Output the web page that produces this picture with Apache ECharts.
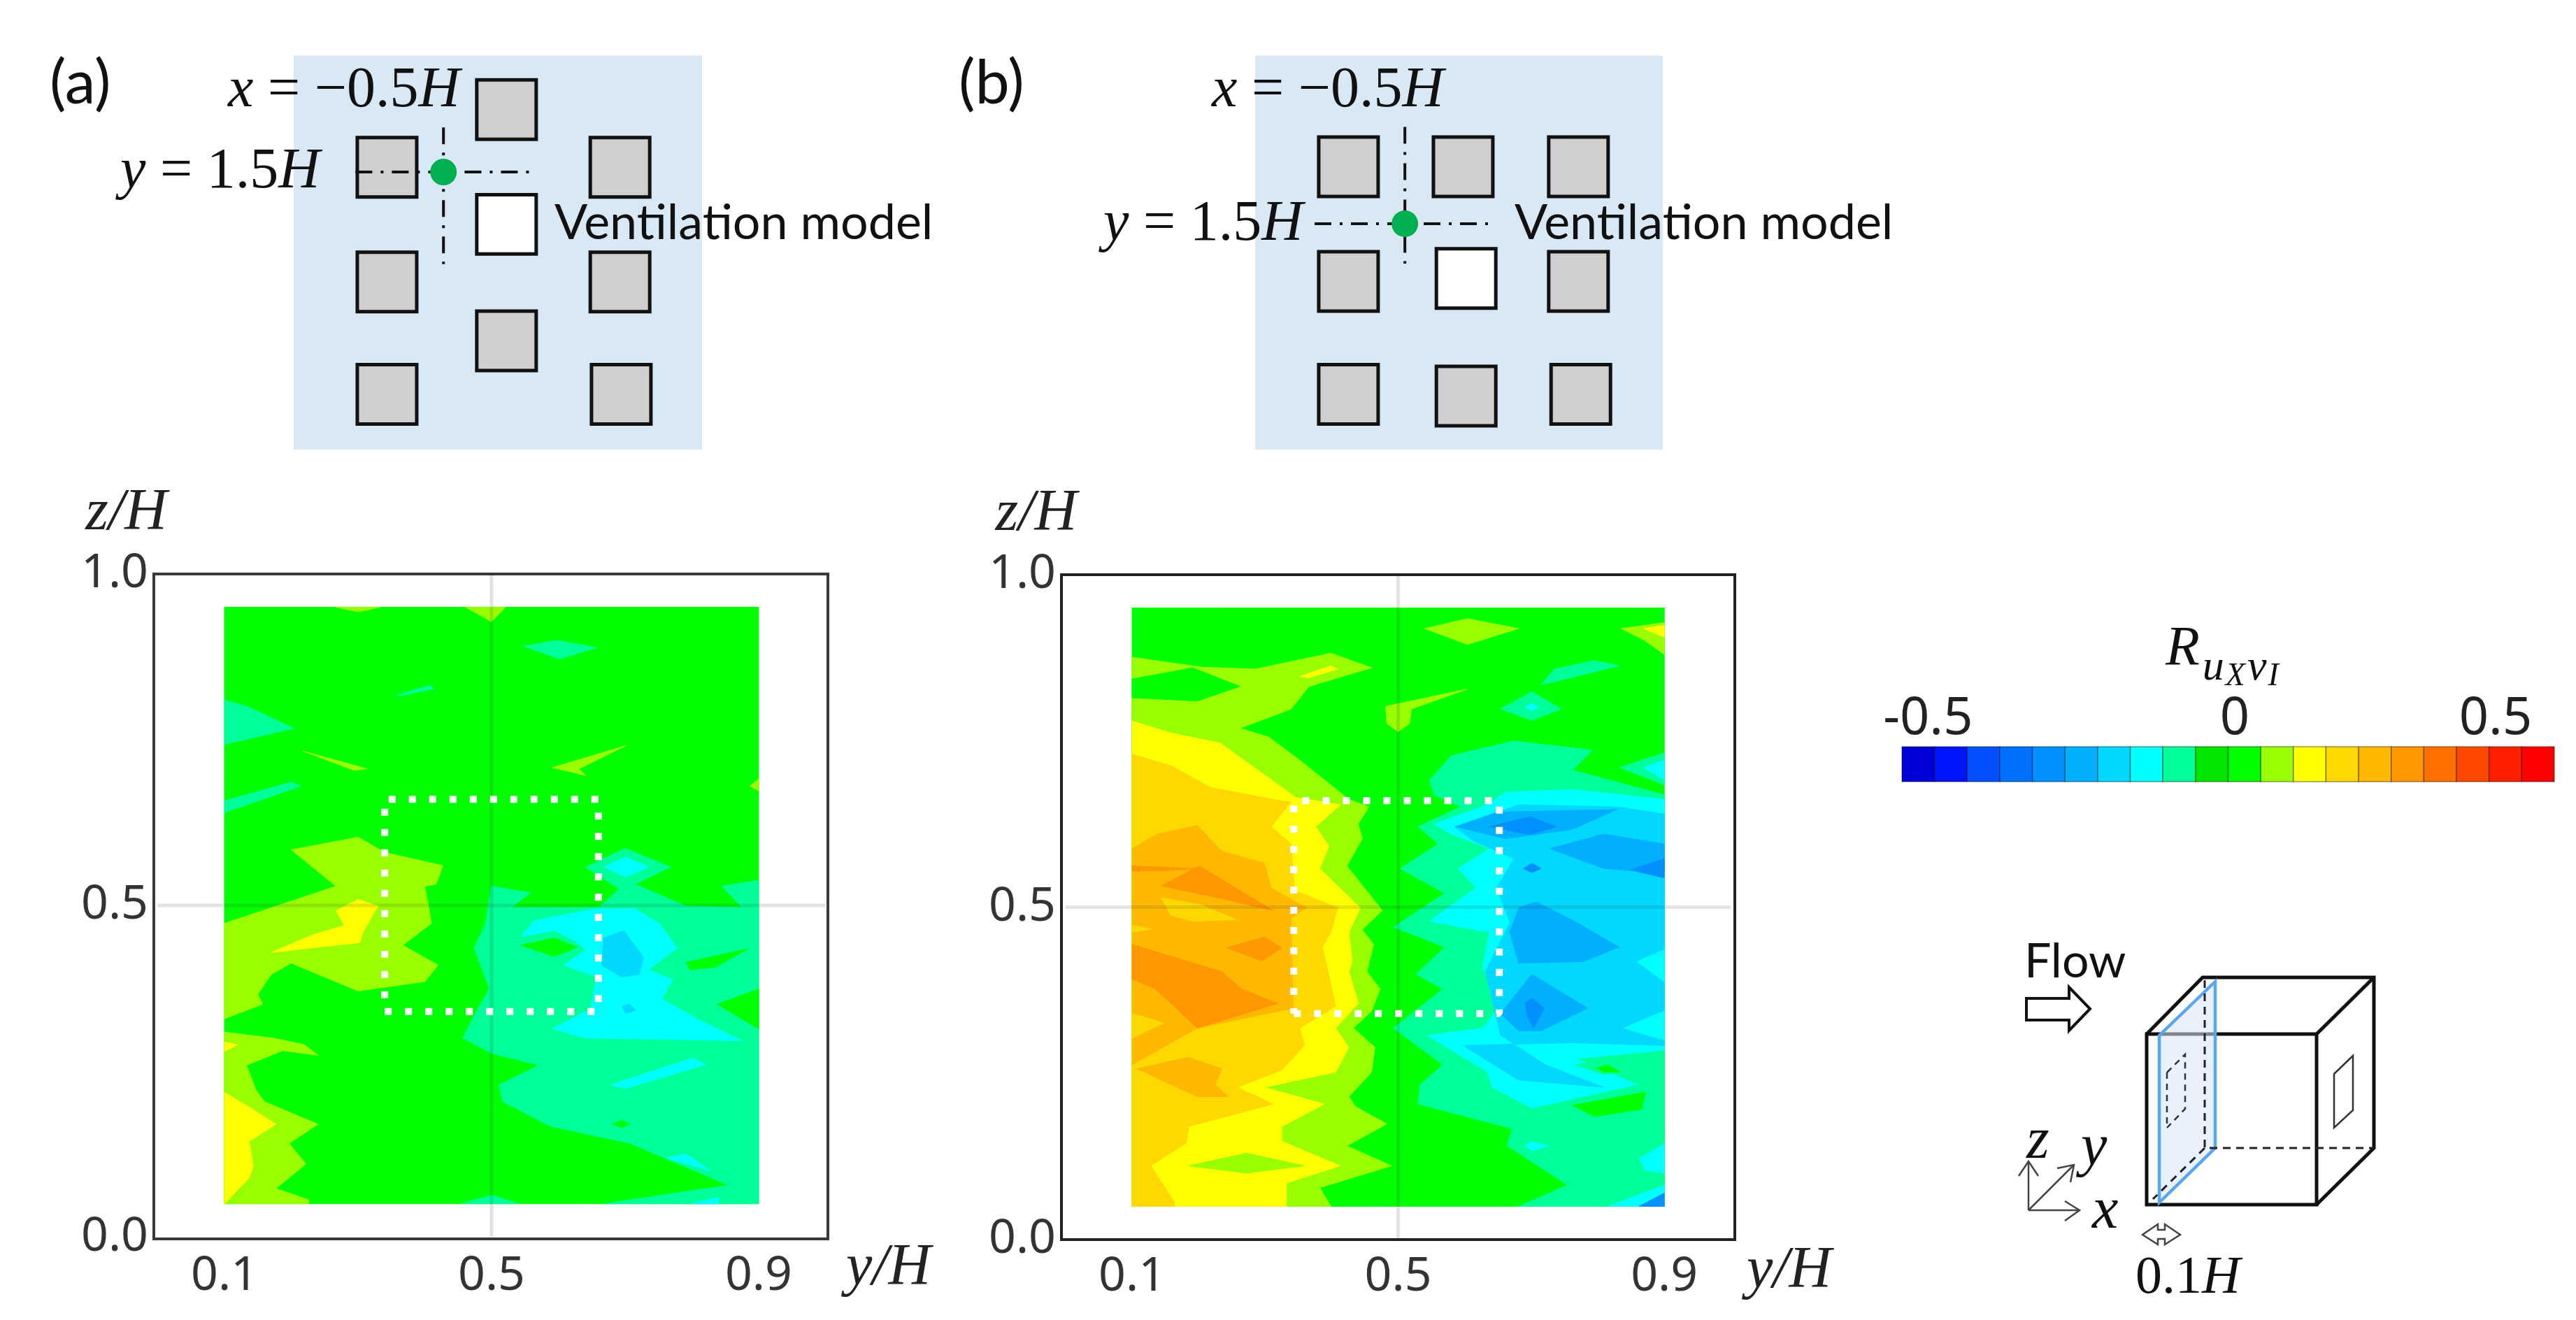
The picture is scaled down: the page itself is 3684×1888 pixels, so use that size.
<!DOCTYPE html>
<html><head><meta charset="utf-8">
<style>html,body{margin:0;padding:0;background:#fff}#c{width:3684px;height:1888px}</style>
<script src="https://cdn.jsdelivr.net/npm/echarts@6/dist/echarts.min.js"></script>
</head><body><div id="c"></div>
<script>
// Colour scale of R: 20 classes, lower edges and colours
const levelEdges = [-0.5,-0.45,-0.4,-0.35,-0.3,-0.25,-0.2,-0.15,-0.1,-0.05,0,0.05,0.1,0.15,0.2,0.25,0.3,0.35,0.4,0.45,0.5];
const levelColors = ['#0000d8','#0014ff','#0050ff','#0070ff','#0090ff','#00b0ff','#00d8ff','#00ffff','#00ff99','#00e600','#00ff00','#99ff00','#ffff00','#ffd800','#ffb800','#ff9800','#ff7000','#ff4800','#ff2000','#ff0000'];
const colorTicks = [-0.46,0.01,0.41];
const colorTickLabels = ['-0.5','0','0.5'];
const yHTicks = [0.1,0.5,0.9];
const zHTicks = [0,0.5,1];
const windowY = [0.34,0.66];
const windowZ = [0.34,0.66];
const windowYb = [0.343,0.652];

// Contour bands: [class, [[y/H, z/H], ...]], painted in order
const bandsA = [
[10,[[.10,.95],[.90,.95],[.90,.05],[.10,.05]]],
[11,[[.10,.473],[.267,.529],[.20,.584],[.30,.603],[.34,.58],[.427,.56],[.417,.532],[.40,.529],[.41,.473],[.367,.44],[.42,.41],[.40,.385],[.30,.371],[.20,.413],[.17,.396],[.15,.366],[.157,.351],[.10,.329]]],
[12,[[.267,.492],[.30,.509],[.33,.499],[.307,.459],[.303,.444],[.24,.437],[.17,.429],[.23,.455],[.28,.47]]],
[11,[[.10,.309],[.173,.30],[.22,.29],[.24,.274],[.187,.281],[.133,.259],[.147,.222],[.16,.204],[.24,.17],[.197,.141],[.222,.11],[.177,.073],[.226,.056],[.226,.05],[.10,.05]]],
[12,[[.10,.218],[.137,.196],[.177,.17],[.137,.144],[.143,.107],[.137,.089],[.10,.05]]],
[12,[[.10,.294],[.12,.29],[.10,.28]]],
[8,[[.50,.529],[.558,.519],[.53,.497],[.661,.497],[.691,.525],[.641,.558],[.70,.586],[.768,.558],[.715,.532],[.791,.499],[.875,.497],[.845,.529],[.90,.538],[.90,.05],[.668,.05],[.855,.078],[.708,.141],[.588,.167],[.517,.204],[.511,.229],[.571,.259],[.50,.277],[.457,.30],[.477,.34],[.497,.374],[.474,.436],[.491,.473]]],
[7,[[.544,.453],[.564,.477],[.654,.495],[.715,.495],[.751,.473],[.778,.436],[.735,.403],[.771,.388],[.755,.359],[.808,.329],[.875,.296],[.641,.30],[.591,.314],[.648,.344],[.658,.392],[.608,.41],[.641,.433],[.624,.447],[.594,.462]]],
[10,[[.544,.44],[.594,.451],[.628,.437],[.594,.423]]],
[10,[[.791,.414],[.885,.435],[.835,.407],[.798,.403]]],
[10,[[.838,.351],[.90,.374],[.90,.314]]],
[10,[[.681,.17],[.695,.176],[.707,.17],[.695,.165]]],
[6,[[.668,.451],[.698,.462],[.728,.421],[.721,.396],[.695,.392],[.665,.41]]],
[6,[[.695,.348],[.707,.351],[.716,.342],[.701,.337]]],
[7,[[.668,.558],[.701,.573],[.735,.558],[.701,.543]]],
[7,[[.678,.229],[.801,.27],[.821,.26],[.701,.224]]],
[7,[[.761,.119],[.791,.125],[.828,.10]]],
[7,[[.80,.05],[.84,.06],[.84,.05]]],
[8,[[.548,.891],[.598,.90],[.658,.889],[.602,.872]]],
[8,[[.357,.817],[.407,.832],[.414,.827],[.367,.817]]],
[8,[[.10,.81],[.137,.799],[.204,.767],[.10,.743]]],
[8,[[.10,.658],[.20,.686],[.214,.68],[.10,.64]]],
[11,[[.217,.733],[.314,.706],[.294,.704]]],
[11,[[.591,.708],[.701,.741],[.631,.706],[.641,.696]]],
[11,[[.461,.95],[.521,.95],[.50,.928]]],
[11,[[.267,.95],[.334,.95],[.30,.943]]],
[11,[[.90,.691],[.887,.68],[.90,.673]]],
[8,[[.454,.05],[.50,.063],[.541,.05]]]
];

const bandsB = [
[10,[[.10,.95],[.90,.95],[.90,.05],[.10,.05]]],
[11,[[.10,.876],[.205,.861],[.285,.858],[.399,.882],[.46,.86],[.366,.832],[.339,.798],[.262,.769],[.305,.756],[.352,.721],[.426,.662],[.456,.651],[.44,.625],[.446,.603],[.423,.562],[.476,.495],[.446,.466],[.463,.444],[.453,.403],[.473,.377],[.46,.344],[.433,.318],[.465,.289],[.46,.252],[.426,.215],[.436,.20],[.483,.174],[.423,.141],[.49,.111],[.382,.078],[.399,.05],[.10,.05]]],
[10,[[.10,.843],[.191,.86],[.262,.832],[.198,.81],[.10,.815]]],
[12,[[.352,.847],[.399,.863],[.409,.858],[.366,.845]]],
[12,[[.10,.78],[.158,.762],[.232,.747],[.299,.699],[.346,.665],[.413,.654],[.376,.621],[.396,.592],[.382,.558],[.443,.499],[.426,.462],[.431,.418],[.426,.403],[.44,.355],[.406,.318],[.426,.289],[.406,.252],[.299,.229],[.389,.204],[.325,.17],[.325,.148],[.413,.111],[.332,.085],[.332,.05],[.10,.05]]],
[11,[[.185,.111],[.272,.13],[.359,.111],[.272,.10]]],
[13,[[.10,.73],[.158,.713],[.218,.68],[.312,.662],[.339,.658],[.309,.621],[.339,.595],[.344,.525],[.409,.499],[.399,.462],[.386,.44],[.406,.351],[.352,.318],[.359,.292],[.325,.255],[.258,.229],[.312,.204],[.185,.17],[.181,.145],[.128,.111],[.164,.056],[.164,.05],[.10,.05]]],
[14,[[.10,.588],[.138,.61],[.198,.623],[.235,.584],[.299,.566],[.309,.529],[.342,.51],[.362,.499],[.339,.484],[.342,.348],[.198,.318],[.10,.263]]],
[14,[[.107,.257],[.184,.274],[.235,.257],[.225,.233],[.245,.215],[.198,.215]]],
[15,[[.10,.444],[.235,.403],[.265,.377],[.319,.355],[.198,.318],[.135,.377],[.10,.392]]],
[13,[[.10,.34],[.148,.326],[.10,.303]]],
[13,[[.144,.514],[.205,.503],[.258,.481],[.191,.479],[.158,.488]]],
[15,[[.144,.532],[.201,.562],[.312,.495],[.225,.515]]],
[15,[[.10,.562],[.198,.558],[.151,.555],[.10,.554]]],
[15,[[.242,.439],[.299,.455],[.325,.439],[.295,.419]]],
[13,[[.10,.473],[.128,.467],[.10,.462]]],
[11,[[.54,.919],[.604,.934],[.681,.919],[.604,.895]]],
[11,[[.835,.919],[.90,.928],[.90,.88],[.869,.902]]],
[12,[[.869,.919],[.90,.924],[.90,.906]]],
[11,[[.481,.802],[.604,.828],[.52,.798],[.517,.776],[.50,.764],[.483,.776]]],
[8,[[.547,.691],[.58,.728],[.674,.75],[.792,.736],[.762,.706],[.90,.669],[.90,.05],[.681,.05],[.755,.082],[.664,.141],[.671,.167],[.53,.204],[.533,.233],[.567,.263],[.493,.318],[.567,.377],[.527,.399],[.57,.44],[.493,.47],[.57,.521],[.503,.558],[.56,.595],[.53,.621],[.594,.651],[.554,.669]]],
[8,[[.715,.835],[.735,.858],[.795,.871],[.832,.863],[.735,.839]]],
[8,[[.654,.798],[.701,.824],[.745,.798],[.701,.781]]],
[7,[[.69,.801],[.701,.806],[.711,.801],[.701,.795]]],
[8,[[.833,.71],[.90,.732],[.90,.684]]],
[7,[[.869,.71],[.90,.721],[.90,.691]]],
[7,[[.554,.625],[.634,.654],[.661,.673],[.762,.677],[.90,.662],[.90,.285],[.768,.272],[.859,.233],[.701,.198],[.641,.229],[.634,.252],[.544,.307],[.627,.318],[.651,.348],[.627,.411],[.637,.462],[.547,.479],[.617,.529],[.59,.558],[.637,.588],[.58,.61]]],
[6,[[.584,.621],[.681,.654],[.829,.651],[.90,.64],[.90,.292],[.762,.296],[.597,.292],[.681,.24],[.809,.229],[.721,.263],[.654,.307],[.631,.403],[.668,.477],[.648,.529],[.674,.573],[.614,.599]]],
[7,[[.859,.418],[.90,.436],[.90,.388]]],
[7,[[.839,.318],[.90,.344],[.90,.30]]],
[5,[[.587,.621],[.651,.643],[.829,.647],[.762,.617],[.661,.603]]],
[4,[[.637,.621],[.698,.636],[.738,.621],[.698,.609]]],
[5,[[.728,.588],[.809,.61],[.90,.595],[.90,.551],[.809,.558]]],
[4,[[.849,.556],[.90,.573],[.90,.544]]],
[4,[[.688,.558],[.701,.566],[.715,.558],[.701,.552]]],
[5,[[.668,.462],[.681,.499],[.708,.508],[.768,.477],[.832,.44],[.778,.418],[.681,.416]]],
[5,[[.654,.34],[.701,.399],[.785,.348],[.715,.314],[.681,.314]]],
[4,[[.691,.355],[.701,.363],[.72,.348],[.703,.318],[.694,.337]]],
[7,[[.862,.122],[.90,.144],[.90,.10],[.872,.104]]],
[7,[[.691,.141],[.701,.148],[.725,.141],[.701,.133]]],
[7,[[.815,.05],[.90,.082],[.90,.05]]],
[4,[[.862,.05],[.90,.07],[.90,.05]]],
[8,[[.767,.263],[.82,.274],[.859,.255],[.809,.248]]],
[10,[[.798,.258],[.815,.263],[.834,.252],[.809,.252]]],
[10,[[.762,.202],[.872,.222],[.866,.196],[.795,.185]]]
];

// Site plans, in units of H from the ventilation model: [centre x, centre y, fill kind]
const buildingsA = [[0,1.93,0],[-2.01,.96,0],[1.91,.96,0],[0,0,1],[-2.01,-.97,0],[1.91,-.97,0],[0,-1.96,0],[-2.01,-2.86,0],[1.93,-2.86,0]];
const buildingsB = [[-1.98,1.88,0],[-.05,1.88,0],[1.89,1.88,0],[-1.98,-.05,0],[0,0,1],[1.89,-.05,0],[-1.98,-1.95,0],[0,-1.98,0],[1.93,-1.95,0]];
const planA = {x:[-3.58,3.29], y:[-3.79,2.84], probe:[-1.06,.88], vLine:[1.63,-.67], hLine:[-2.54,.49]};
const planB = {x:[-3.55,3.31], y:[-2.88,3.75], probe:[-1.03,.92], vLine:[2.55,.25], hLine:[-2.55,.48]};

const MATH = '"Liberation Serif"', SANS = '"Noto Sans"', CAL = 'Lato', INK = '#333';

function bandSeries(bands, g){
  return {type:'custom', xAxisIndex:g, yAxisIndex:g, z:2, silent:true, clip:false,
    data:bands.map(b=>[b[1][0][0],b[1][0][1],b[0]]), encode:{x:0,y:1},
    renderItem:(p,api)=>{const b=bands[p.dataIndex];
      return {type:'polygon', shape:{points:b[1].map(q=>api.coord(q))},
        style:{fill:levelColors[b[0]], stroke:levelColors[b[0]], lineWidth:1}};}};
}
function lineSeries(g, pts, style, z){
  return {type:'line', xAxisIndex:g, yAxisIndex:g, data:pts, symbol:'none', silent:true, z:z, lineStyle:style};
}
function panelSeries(g, bands, wy, wz){
  return [bandSeries(bands,g),
    lineSeries(g,[[.5,0],[.5,1]],{color:'rgba(60,60,60,.14)',width:5},3),
    lineSeries(g,[[0,.5],[1,.5]],{color:'rgba(60,60,60,.14)',width:5},3),
    lineSeries(g,[[wy[0],wz[0]],[wy[1],wz[0]],[wy[1],wz[1]],[wy[0],wz[1]],[wy[0],wz[0]]],{color:'#fff',width:10,type:[10,19]},4)];
}
function planSeries(g, plan, bld){
  return [{type:'custom', xAxisIndex:g, yAxisIndex:g, z:2, silent:true, clip:false,
      data:bld.map(b=>[b[0],b[1],b[2]]), encode:{x:0,y:1},
      renderItem:(p,api)=>{const b=bld[p.dataIndex], a=api.coord([b[0]-.5,b[1]+.5]), c=api.coord([b[0]+.5,b[1]-.5]);
        return {type:'rect', shape:{x:a[0],y:a[1],width:c[0]-a[0],height:c[1]-a[1]},
          style:{fill:b[2]?'#fff':'#d0cece', stroke:'#111', lineWidth:5}};}},
    lineSeries(g,[[plan.probe[0],plan.vLine[0]],[plan.probe[0],plan.vLine[1]]],{color:'#111',width:4,type:[24,12,4,12]},3),
    lineSeries(g,[[plan.hLine[0],plan.probe[1]],[plan.hLine[1],plan.probe[1]]],{color:'#111',width:4,type:[24,12,4,12]},3),
    {type:'scatter', xAxisIndex:g, yAxisIndex:g, z:4, silent:true, symbolSize:38, itemStyle:{color:'#00b050',opacity:1}, data:[plan.probe]}];
}
function dataAxis(pos, min, max, ticks, extra){
  return {type:'value', gridIndex:extra.g, position:pos, min, max, splitLine:{show:false},
    axisLine:{show:false}, axisTick:{show:false},
    axisLabel:{customValues:ticks, formatter:v=>v.toFixed(1), fontFamily:SANS, fontSize:68, color:INK, margin:extra.margin, hideOverlap:false},
    name:extra.name, nameLocation:'end', nameGap:extra.gap,
    nameTextStyle:extra.nameStyle};
}
const mathName = {fontFamily:MATH, fontStyle:'italic', fontSize:84, color:'#222'};

const grids = [
  {left:220,top:821,width:964,height:951,show:true,borderColor:'#3a3a3a',borderWidth:4,backgroundColor:'#fff'},
  {left:1518,top:822,width:963,height:951,show:true,borderColor:'#222',borderWidth:4,backgroundColor:'#fff'},
  {left:2720,top:1068,width:933,height:50},
  {left:420,top:79.5,width:584,height:563.5},
  {left:1795,top:79.5,width:583,height:563.5}
];
const hidden = (g,r)=>({type:'value',gridIndex:g,min:r[0],max:r[1],show:false});
const xAxes = [
  dataAxis('bottom',-.0058,1.0037,yHTicks,{g:0,margin:20,name:'y/H',gap:26,nameStyle:Object.assign({verticalAlign:'top',padding:[4,0,0,0]},mathName)}),
  dataAxis('bottom',-.0062,1.006,yHTicks,{g:1,margin:20,name:'y/H',gap:17,nameStyle:Object.assign({verticalAlign:'top',padding:[4,0,0,0]},mathName)}),
  {type:'value',gridIndex:2,position:'top',min:-.5,max:.5,splitLine:{show:false},axisLine:{show:false},axisTick:{show:false},
   axisLabel:{customValues:colorTicks,formatter:v=>colorTickLabels[colorTicks.indexOf(v)],fontFamily:SANS,fontSize:74,color:'#222',margin:2,hideOverlap:false}},
  hidden(3,planA.x), hidden(4,planB.x)
];
const yAxes = [
  dataAxis('left',-.003,1,zHTicks,{g:0,margin:8,name:'z/H',gap:44,nameStyle:Object.assign({verticalAlign:'bottom',padding:[0,90,0,0]},mathName)}),
  dataAxis('left',0,1,zHTicks,{g:1,margin:8,name:'z/H',gap:44,nameStyle:Object.assign({verticalAlign:'bottom',padding:[0,84,0,0]},mathName)}),
  {type:'value',gridIndex:2,min:0,max:1,show:false},
  hidden(3,planA.y), hidden(4,planB.y)
];
const legendSeries = {type:'custom', xAxisIndex:2, yAxisIndex:2, silent:true, clip:false,
  data:levelColors.map((c,i)=>[levelEdges[i],levelEdges[i+1]]), encode:{x:[0,1]},
  renderItem:(p,api)=>{const i=p.dataIndex,a=api.coord([levelEdges[i],1]),b=api.coord([levelEdges[i+1],0]);
    return {type:'rect',shape:{x:a[0],y:a[1],width:b[0]-a[0],height:b[1]-a[1]},style:{fill:levelColors[i],stroke:'rgba(0,0,0,.4)',lineWidth:1.5}};}};
const blueSeries = (g,plan)=>({type:'custom',xAxisIndex:g,yAxisIndex:g,z:1,silent:true,data:[[plan.x[0],plan.y[1]]],encode:{x:0,y:1},
  renderItem:(p,api)=>{const a=api.coord([plan.x[0],plan.y[1]]),b=api.coord([plan.x[1],plan.y[0]]);return {type:'rect',shape:{x:a[0],y:a[1],width:b[0]-a[0],height:b[1]-a[1]},style:{fill:'#d9e8f5'}};}});

// Graphic helpers for annotations and the cube sketch
const mathRich = {i:{fontFamily:MATH,fontStyle:'italic',fontSize:82,fill:'#111'}, n:{fontFamily:MATH,fontSize:82,fill:'#111'}};
const txt=(x,y,t,font,size,extra)=>({type:'text',x,y,z:20,silent:true,style:Object.assign({text:t,fontFamily:font,fontSize:size,fill:'#111',align:'left',verticalAlign:'middle'},extra||{})});
const mtxt=(x,y,t)=>({type:'text',x,y,z:20,silent:true,style:{text:t,rich:mathRich,align:'left',verticalAlign:'middle'}});
const pl=(pts,stroke,w,dash,close,fill)=>({type:close?'polygon':'polyline',z:15,silent:true,shape:{points:pts},
  style:{stroke,lineWidth:w,fill:fill||(close?'none':null),lineDash:dash||null}});
const cube=[
  pl([[3070,1479],[3313,1479],[3313,1723],[3070,1723]],'#111',5,null,true,'#fff'),
  pl([[3070,1479],[3150,1398],[3395,1398],[3395,1642],[3313,1723]],'#111',5),
  pl([[3313,1479],[3395,1398]],'#111',5),
  pl([[3088,1481],[3168,1404],[3168,1642],[3088,1720]],'#5aa5f0',4.5,null,true,'rgba(215,230,250,.55)'),
  pl([[3153,1402],[3153,1642],[3395,1642]],'#222',3,[11,8]),
  pl([[3153,1642],[3079,1715]],'#222',3,[11,8]),
  pl([[3099,1534],[3125,1508],[3125,1586],[3099,1613]],'#333',2.5,[9,7]),
  pl([[3099,1534],[3099,1613]],'#333',2.5,[9,7]),
  pl([[3338,1536],[3365,1510],[3365,1588],[3338,1613]],'#333',2.5,null,true,'#fff'),
  pl([[2898,1428],[2959,1428],[2959,1412],[2989,1443],[2959,1474],[2959,1459],[2898,1459]],'#111',4,null,true,'#fff'),
  pl([[2901,1731],[2901,1661]],'#444',2.5), pl([[2887,1682],[2901,1661],[2915,1682]],'#444',2.5),
  pl([[2901,1731],[2974,1731]],'#444',2.5), pl([[2953,1718],[2974,1731],[2953,1746]],'#444',2.5),
  pl([[2901,1731],[2966,1666]],'#444',2.5), pl([[2942,1671],[2966,1666],[2961,1691]],'#444',2.5),
  pl([[3086,1751],[3064,1766],[3086,1780],[3086,1772],[3096,1772],[3096,1780],[3118,1766],[3096,1751],[3096,1759],[3086,1759]],'#444',2.5,true,'#fff')
];
const graphics=[
  txt(71,120,'(a)',CAL,88), txt(1371,120,'(b)',CAL,88),
  mtxt(326,130,'{i|x}{n| = −0.5}{i|H}'), mtxt(1733,130,'{i|x}{n| = −0.5}{i|H}'),
  mtxt(172,246,'{i|y}{n| = 1.5}{i|H}'), mtxt(1578,321,'{i|y}{n| = 1.5}{i|H}'),
  txt(793,319,'Ventilation model',CAL,70), txt(2166,319,'Ventilation model',CAL,70),
  {type:'text',x:3097,y:890,z:20,silent:true,style:{text:'{r|R}{s|u}{t|X}{s|v}{t|I}',rich:{
     r:{fontFamily:MATH,fontStyle:'italic',fontSize:80,fill:'#111',padding:[0,4,26,0]},
     s:{fontFamily:MATH,fontStyle:'italic',fontSize:62,fill:'#111',padding:[26,2,0,0]},
     t:{fontFamily:MATH,fontStyle:'italic',fontSize:46,fill:'#111',padding:[50,3,0,0]}},align:'left',verticalAlign:'top'}},
  txt(2895,1376,'Flow',CAL,68),
  txt(2898,1634,'z',MATH,84,{fontStyle:'italic'}), txt(2976,1644,'y',MATH,84,{fontStyle:'italic'}), txt(2992,1734,'x',MATH,84,{fontStyle:'italic'}),
  {type:'text',x:3054,y:1829,z:20,silent:true,style:{text:'{n|0.1}{i|H}',rich:{i:{fontFamily:MATH,fontStyle:'italic',fontSize:76,fill:'#111'},n:{fontFamily:MATH,fontSize:76,fill:'#111'}},align:'left',verticalAlign:'middle'}}
].concat(cube);

const chart = echarts.init(document.getElementById('c'),null,{renderer:'canvas'});
chart.setOption({
  animation:false, backgroundColor:'#fff', grid:grids, xAxis:xAxes, yAxis:yAxes,
  series:[].concat(panelSeries(0,bandsA,windowY,windowZ), panelSeries(1,bandsB,windowYb,windowZ), [legendSeries, blueSeries(3,planA), blueSeries(4,planB)],
    planSeries(3,planA,buildingsA), planSeries(4,planB,buildingsB)),
  graphic:graphics
});
</script></body></html>
